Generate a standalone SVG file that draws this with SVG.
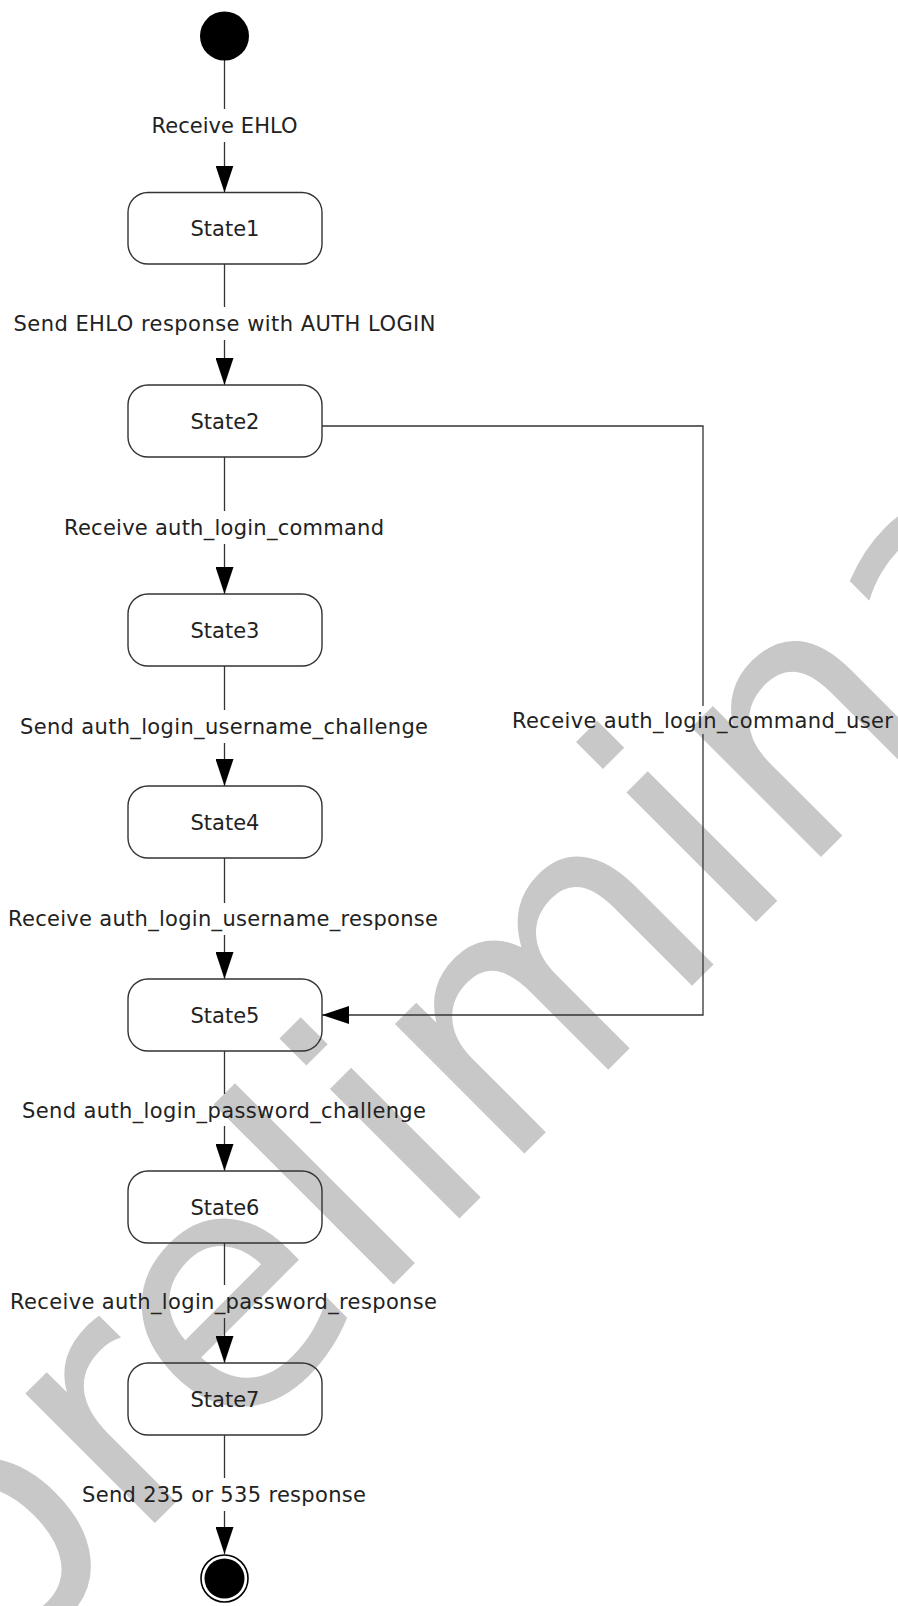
<svg xmlns="http://www.w3.org/2000/svg" width="898" height="1606" viewBox="0 0 898 1606">
<style>
.wm{font-family:"DejaVu Sans",Verdana,sans-serif;font-size:335px;fill:#c8c8c8}
.box{fill:none;stroke:#333;stroke-width:1.4}
.lbl{font-family:"DejaVu Sans",Verdana,sans-serif;font-size:21px;fill:#222;text-anchor:middle}
.ln{fill:none;stroke:#333;stroke-width:1.3}
</style>
<defs>
<marker id="arrow" viewBox="0 0 27 18" refX="27" refY="9" markerWidth="27" markerHeight="18" markerUnits="userSpaceOnUse" orient="auto">
<path d="M0,0 L27,9 L0,18 Z" fill="#000"/>
</marker>
</defs>
<rect width="898" height="1606" fill="#fff"/>
<g id="watermark">
<text class="wm" transform="translate(-17,1695) rotate(-45)">preliminary</text>
</g>
<g id="connectors">
<path class="ln" d="M224.5,60 V109"/>
<path class="ln" d="M224.5,142 V192.5" marker-end="url(#arrow)"/>
<path class="ln" d="M224.5,264 V307"/>
<path class="ln" d="M224.5,340 V385" marker-end="url(#arrow)"/>
<path class="ln" d="M224.5,457 V511"/>
<path class="ln" d="M224.5,544 V594" marker-end="url(#arrow)"/>
<path class="ln" d="M224.5,666 V710"/>
<path class="ln" d="M224.5,743 V786" marker-end="url(#arrow)"/>
<path class="ln" d="M224.5,858 V903"/>
<path class="ln" d="M224.5,935 V979" marker-end="url(#arrow)"/>
<path class="ln" d="M224.5,1051 V1094"/>
<path class="ln" d="M224.5,1126 V1171" marker-end="url(#arrow)"/>
<path class="ln" d="M224.5,1243 V1285"/>
<path class="ln" d="M224.5,1318 V1363" marker-end="url(#arrow)"/>
<path class="ln" d="M224.5,1435 V1478"/>
<path class="ln" d="M224.5,1511 V1554" marker-end="url(#arrow)"/>
<path class="ln" d="M322,426 H703 V706"/>
<path class="ln" d="M703,734 V1015 H322" marker-end="url(#arrow)"/>
<text class="lbl" x="224.5" y="132.5" textLength="146" lengthAdjust="spacing">Receive EHLO</text>
<text class="lbl" x="224.5" y="330.5" textLength="422" lengthAdjust="spacing">Send EHLO response with AUTH LOGIN</text>
<text class="lbl" x="224" y="534.5" textLength="320" lengthAdjust="spacing">Receive auth_login_command</text>
<text class="lbl" x="224" y="733.5" textLength="408" lengthAdjust="spacing">Send auth_login_username_challenge</text>
<text class="lbl" x="223" y="925.5" textLength="430" lengthAdjust="spacing">Receive auth_login_username_response</text>
<text class="lbl" x="224" y="1117.5" textLength="404" lengthAdjust="spacing">Send auth_login_password_challenge</text>
<text class="lbl" x="223.5" y="1308.5" textLength="427" lengthAdjust="spacing">Receive auth_login_password_response</text>
<text class="lbl" x="224" y="1501.5" textLength="284" lengthAdjust="spacing">Send 235 or 535 response</text>
<text class="lbl" x="702.5" y="727.5" textLength="381" lengthAdjust="spacing">Receive auth_login_command_user</text>
</g>
<g id="initial"><circle cx="224.5" cy="36" r="24.5" fill="#000"/></g>
<g id="State1"><rect class="box" x="128" y="192.5" width="194" height="71.5" rx="20"/><text class="lbl" x="225" y="235.5">State1</text></g>
<g id="State2"><rect class="box" x="128" y="385" width="194" height="72" rx="20"/><text class="lbl" x="225" y="428.5">State2</text></g>
<g id="State3"><rect class="box" x="128" y="594" width="194" height="72" rx="20"/><text class="lbl" x="225" y="637.5">State3</text></g>
<g id="State4"><rect class="box" x="128" y="786" width="194" height="72" rx="20"/><text class="lbl" x="225" y="829.5">State4</text></g>
<g id="State5"><rect class="box" x="128" y="979" width="194" height="72" rx="20"/><text class="lbl" x="225" y="1022.5">State5</text></g>
<g id="State6"><rect class="box" x="128" y="1171" width="194" height="72" rx="20"/><text class="lbl" x="225" y="1214.5">State6</text></g>
<g id="State7"><rect class="box" x="128" y="1363" width="194" height="72" rx="20"/><text class="lbl" x="225" y="1406.5">State7</text></g>
<g id="final"><circle cx="224.5" cy="1578.5" r="23.5" fill="none" stroke="#000" stroke-width="1.6"/><circle cx="224.5" cy="1578.5" r="20" fill="#000"/></g>
</svg>
